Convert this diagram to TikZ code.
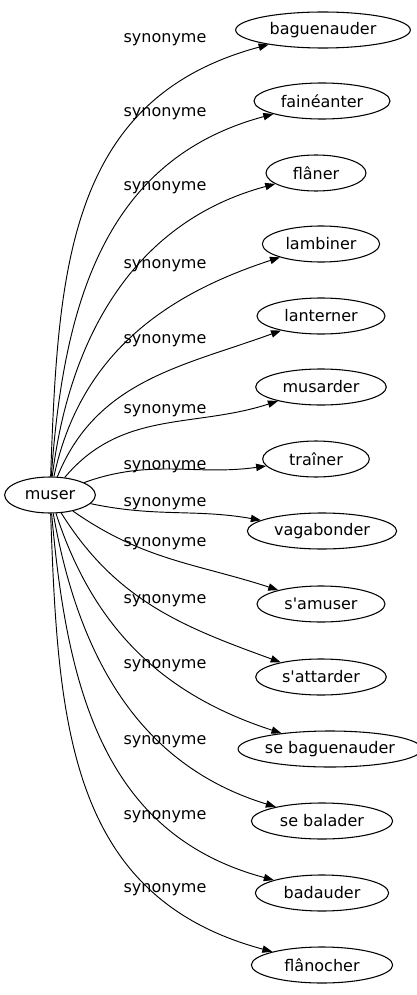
\documentclass[tikz,border=0pt]{standalone}
\usepackage{fontspec}
\setmainfont{DejaVu Sans}
\usetikzlibrary{shapes.geometric, arrows.meta}

\begin{document}
\begin{tikzpicture}[x=0.75pt, y=-0.75pt,
    word/.style={ellipse, draw, line width=0.8pt, inner sep=0pt, minimum height=27pt,
                 font=\fontsize{12}{14}\selectfont},
    lbl/.style={font=\fontsize{12}{14}\selectfont, inner sep=0pt},
    arr/.style={-{Triangle[length=7.5pt, width=5.5pt]}, line width=0.7pt}
  ]
  \useasboundingbox (0,0) rectangle (417,995);

  % source
  \node[word, minimum width=68pt] (m) at (50,495) {muser};

  % synonyms (right column)
  \node[word, minimum width=131pt] (s1)  at (323,30)  {baguenauder};
  \node[word, minimum width=102pt] (s2)  at (322,101) {fainéanter};
  \node[word, minimum width=75pt]  (s3)  at (316,173) {flâner};
  \node[word, minimum width=88pt]  (s4)  at (321,244) {lambiner};
  \node[word, minimum width=96pt]  (s5)  at (321,316) {lanterner};
  \node[word, minimum width=98pt]  (s6)  at (321,387) {musarder};
  \node[word, minimum width=80pt]  (s7)  at (316,459) {traîner};
  \node[word, minimum width=112pt] (s8)  at (322,531) {vagabonder};
  \node[word, minimum width=96pt]  (s9)  at (321,604) {s\textquotesingle amuser};
  \node[word, minimum width=98pt]  (s10) at (321,677) {s\textquotesingle attarder};
  \node[word, minimum width=134pt] (s11) at (330,749) {se baguenauder};
  \node[word, minimum width=106pt] (s12) at (322,821) {se balader};
  \node[word, minimum width=100pt] (s13) at (322,893) {badauder};
  \node[word, minimum width=106pt] (s14) at (322,965) {flânocher};

  % edge labels
  \node[lbl] (l1)  at (165,40)  {synonyme};
  \node[lbl] (l2)  at (165,114) {synonyme};
  \node[lbl] (l3)  at (165,188) {synonyme};
  \node[lbl] (l4)  at (165,266) {synonyme};
  \node[lbl] (l5)  at (165,341) {synonyme};
  \node[lbl] (l6)  at (165,411) {synonyme};
  \node[lbl] (l7)  at (165,467) {synonyme};
  \node[lbl] (l8)  at (165,504) {synonyme};
  \node[lbl] (l9)  at (165,544) {synonyme};
  \node[lbl] (l10) at (165,601) {synonyme};
  \node[lbl] (l11) at (165,666) {synonyme};
  \node[lbl] (l12) at (165,742) {synonyme};
  \node[lbl] (l13) at (165,817) {synonyme};
  \node[lbl] (l14) at (165,890) {synonyme};

  % edges
  \draw[arr] (m) to[out=88, in=195, looseness=1.1]  (s1);
  \draw[arr] (m) to[out=86, in=195, looseness=1.05] (s2);
  \draw[arr] (m) to[out=83, in=195] (s3);
  \draw[arr] (m) to[out=78, in=198] (s4);
  \draw[arr] (m) to[out=68, in=200] (s5);
  \draw[arr] (m) to[out=50, in=198] (s6);
  \draw[arr] (m) to[out=20, in=188] (s7);
  \draw[arr] (m) to[out=-12, in=170] (s8);
  \draw[arr] (m) to[out=-35, in=162] (s9);
  \draw[arr] (m) to[out=-58, in=160] (s10);
  \draw[arr] (m) to[out=-72, in=162] (s11);
  \draw[arr] (m) to[out=-80, in=163] (s12);
  \draw[arr] (m) to[out=-85, in=165, looseness=1.05] (s13);
  \draw[arr] (m) to[out=-88, in=165, looseness=1.1] (s14);
\end{tikzpicture}
\end{document}
